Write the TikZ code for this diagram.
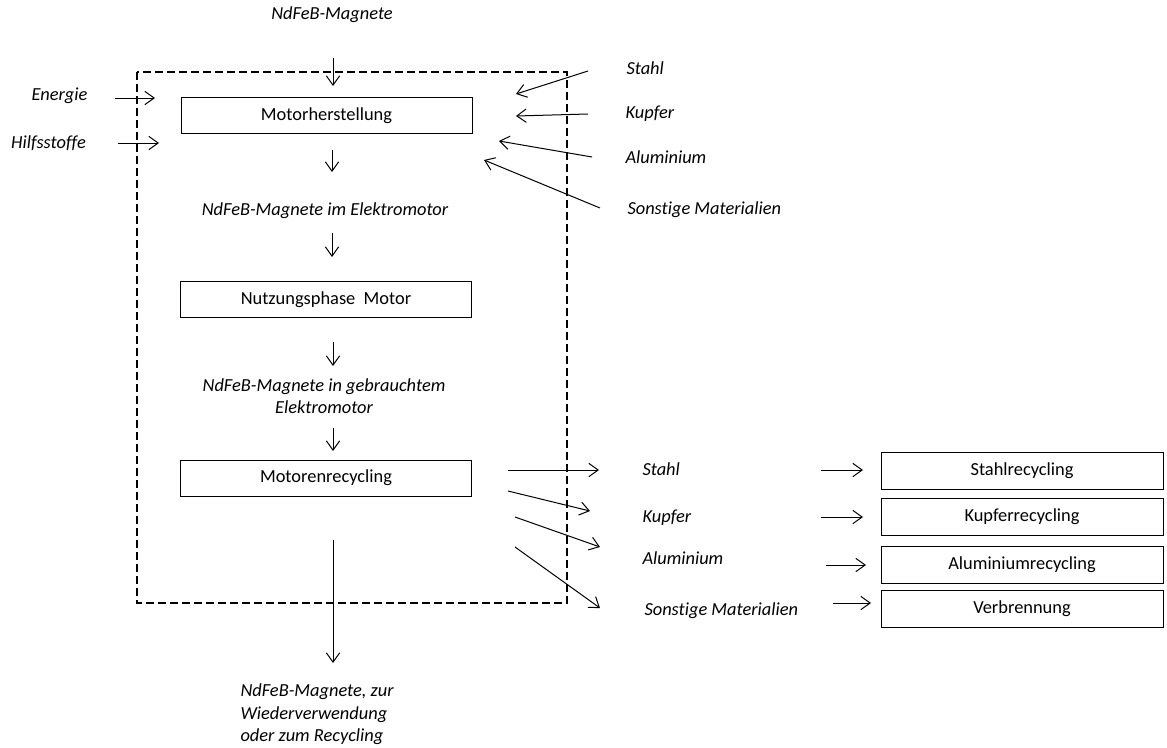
\documentclass[tikz,border=0pt]{standalone}
\usepackage{fontspec}
\setmainfont{Carlito}[Ligatures=NoCommon]
\usetikzlibrary{arrows.meta}
\tikzset{
>={Straight Barb[length=7pt,width=10pt]},
box/.style={%
    rectangle,
    draw=black,
    inner sep=0pt,
    minimum width=218.25pt,
    minimum height=27pt,
},
recbox/.style={%
    box,
    minimum width=211.5pt,
    minimum height=27.75pt,
},
lbl/.style={%
    inner sep=0pt,
    % italic labels for the material flows
    font=\fontsize{13.8}{16.9}\selectfont\itshape
},
frame/.style={%
    line width=1.6pt,
    dash pattern=on 6pt off 3pt
},
}

\begin{document}
\begin{tikzpicture}[x=0.75pt, y=-0.75pt, line width=0.75pt,
    font=\fontsize{13.8}{16.9}\selectfont]
	\useasboundingbox (0,0) rectangle (1167,747);

	% system boundary
	\draw[frame] (137,72) rectangle (567,603);

	% main chain
	\node[lbl] (mag) at (332,15) {NdFeB-Magnete};
	\node[box] (herst) at (326.5,115.5) {Motorherstellung};
	\node[lbl] (magmot) at (325,211) {NdFeB-Magnete im Elektromotor};
	\node[box] (nutz) at (326,299.5) {Nutzungsphase\ \ Motor};
	\node[lbl, align=center] (magalt) at (324,396) {NdFeB-Magnete in gebrauchtem\\Elektromotor};
	\node[box] (mrec) at (326,478) {Motorenrecycling};
	\node[lbl, align=left, anchor=west] (magout) at (240,714.5) {NdFeB-Magnete, zur\\Wiederverwendung\\oder zum Recycling};

	% inputs
	\node[lbl] (energie) at (59.5,96) {Energie};
	\node[lbl] (hilfs) at (48.5,143) {Hilfsstoffe};
	\node[lbl, anchor=west] (stahlin) at (626,68) {Stahl};
	\node[lbl, anchor=west] (kupferin) at (625,114) {Kupfer};
	\node[lbl, anchor=west] (aluin) at (625,157) {Aluminium};
	\node[lbl, anchor=west] (sonstin) at (627,210) {Sonstige Materialien};

	% outputs of motor recycling
	\node[lbl, anchor=west] (stahlout) at (642,469) {Stahl};
	\node[lbl, anchor=west] (kupferout) at (642,518) {Kupfer};
	\node[lbl, anchor=west] (aluout) at (642,558) {Aluminium};
	\node[lbl, anchor=west] (sonstout) at (644,611) {Sonstige Materialien};

	\node[recbox] (stahlrec) at (1022,470.5) {Stahlrecycling};
	\node[recbox] (kupferrec) at (1022,517) {Kupferrecycling};
	\node[recbox] (alurec) at (1022,565) {Aluminiumrecycling};
	\node[recbox] (verbr) at (1022,608.5) {Verbrennung};

	% arrow ends
	\coordinate (m1) at (333,58);     \coordinate (m2) at (333,86);
	\coordinate (e1) at (115,98);     \coordinate (e2) at (155,98);
	\coordinate (h1) at (118,143);    \coordinate (h2) at (159,143);
	\coordinate (si1) at (588,71);    \coordinate (si2) at (516,94);
	\coordinate (ki1) at (588,114);   \coordinate (ki2) at (516,116);
	\coordinate (ai1) at (592,157);   \coordinate (ai2) at (499,141);
	\coordinate (oi1) at (600,208);   \coordinate (oi2) at (484,160);
	\coordinate (f1) at (332,150);    \coordinate (f2) at (332,172);
	\coordinate (f3) at (332,233);    \coordinate (f4) at (332,257);
	\coordinate (f5) at (333,342);    \coordinate (f6) at (333,366);
	\coordinate (f7) at (333,428);    \coordinate (f8) at (333,451);
	\coordinate (so1) at (508,470);   \coordinate (so2) at (599,470);
	\coordinate (ko1) at (508,491);   \coordinate (ko2) at (590,511);
	\coordinate (ao1) at (515,517);   \coordinate (ao2) at (600,547);
	\coordinate (oo1) at (515,547);   \coordinate (oo2) at (600,608);
	\coordinate (sr1) at (821,470);   \coordinate (sr2) at (863,470);
	\coordinate (kr1) at (821,517);   \coordinate (kr2) at (863,517);
	\coordinate (ar1) at (826,565);   \coordinate (ar2) at (866,565);
	\coordinate (vr1) at (833,603);   \coordinate (vr2) at (871,603);
	\coordinate (b1) at (333,540);    \coordinate (b2) at (333,663);

	\draw[->] (m1) -- (m2);
	\draw[->] (e1) -- (e2);
	\draw[->] (h1) -- (h2);
	\draw[->] (si1) -- (si2);
	\draw[->] (ki1) -- (ki2);
	\draw[->] (ai1) -- (ai2);
	\draw[->] (oi1) -- (oi2);
	\draw[->] (f1) -- (f2);
	\draw[->] (f3) -- (f4);
	\draw[->] (f5) -- (f6);
	\draw[->] (f7) -- (f8);
	\draw[->] (so1) -- (so2);
	\draw[->] (ko1) -- (ko2);
	\draw[->] (ao1) -- (ao2);
	\draw[->] (oo1) -- (oo2);
	\draw[->] (sr1) -- (sr2);
	\draw[->] (kr1) -- (kr2);
	\draw[->] (ar1) -- (ar2);
	\draw[->] (vr1) -- (vr2);
	\draw[->] (b1) -- (b2);
\end{tikzpicture}
\end{document}
